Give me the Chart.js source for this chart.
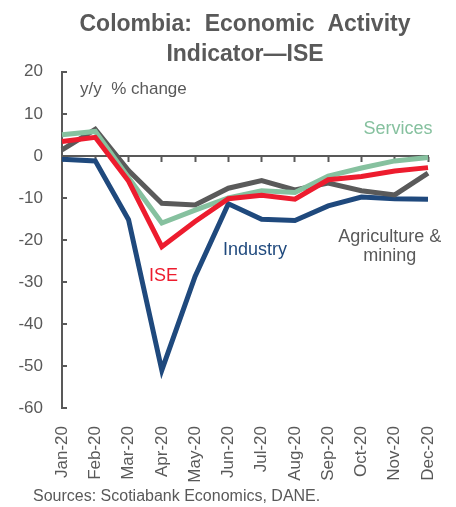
<!DOCTYPE html>
<html>
<head>
<meta charset="utf-8">
<script src="https://cdn.jsdelivr.net/npm/chart.js@4/dist/chart.umd.min.js"></script>
<style>
  html, body { margin: 0; padding: 0; background: #ffffff; }
  #wrap { width: 456px; height: 507px; position: relative; }
</style>
</head>
<body>
<div id="wrap"><canvas id="c" width="456" height="507"></canvas></div>
<script>
const months = ["Jan-20","Feb-20","Mar-20","Apr-20","May-20","Jun-20","Jul-20","Aug-20","Sep-20","Oct-20","Nov-20","Dec-20"];
const ise      = [3.4, 4.4, -6.0, -21.6, -15.6, -10.2, -9.4, -10.3, -5.7, -4.9, -3.6, -2.8];
const services = [5.0, 5.8, -5.2, -16.0, -12.9, -10.0, -8.3, -8.7, -4.8, -2.9, -1.2, -0.4];
const agriMining = [1.4, 6.3, -3.5, -11.3, -11.7, -7.7, -5.9, -8.1, -6.5, -8.3, -9.3, -4.1];
const industry = [-0.8, -1.2, -15.2, -51.0, -28.7, -11.4, -15.1, -15.4, -11.9, -9.8, -10.2, -10.3];
const yTicks = [20, 10, 0, -10, -20, -30, -40, -50, -60];

const GRAY = '#595959';
const FONT = "'Liberation Sans', Arial, sans-serif";

const extras = {
  id: 'extras',
  afterDraw(chart) {
    const ctx = chart.ctx;
    const x = chart.scales.x, y = chart.scales.y;
    const ca = chart.chartArea;
    ctx.save();
    // inward y ticks
    ctx.strokeStyle = GRAY; ctx.lineWidth = 2;
    yTicks.forEach(v => {
      const py = Math.round(y.getPixelForValue(v));
      ctx.beginPath(); ctx.moveTo(ca.left, py); ctx.lineTo(ca.left + 5, py); ctx.stroke();
    });
    // texts
    ctx.textBaseline = 'middle';
    ctx.textAlign = 'left';
    ctx.fillStyle = GRAY; ctx.font = "17px " + FONT;
    ctx.fillText('y/y  % change', x.getPixelForValue(0) + 18, y.getPixelForValue(15.8));
    ctx.textAlign = 'center';
    ctx.font = "18px " + FONT;
    ctx.fillStyle = '#86C19F';
    ctx.fillText('Services', x.getPixelForValue(10.1), y.getPixelForValue(6.4));
    ctx.fillStyle = '#1F497D';
    ctx.fillText('Industry', x.getPixelForValue(5.8), y.getPixelForValue(-22.4));
    ctx.fillStyle = '#ED1C2E';
    ctx.fillText('ISE', x.getPixelForValue(3.05), y.getPixelForValue(-28.6));
    ctx.fillStyle = GRAY;
    ctx.fillText('Agriculture &', x.getPixelForValue(9.85), y.getPixelForValue(-19.3));
    ctx.fillText('mining', x.getPixelForValue(9.85), y.getPixelForValue(-23.9));
    // footer
    ctx.textAlign = 'left';
    ctx.font = "16px " + FONT;
    ctx.fillText('Sources: Scotiabank Economics, DANE.', 33, 497);
    ctx.restore();
  }
};

new Chart(document.getElementById('c'), {
  type: 'line',
  data: {
    labels: months,
    datasets: [
      { label: 'ISE', data: ise, borderColor: '#ED1C2E', order: 1 },
      { label: 'Services', data: services, borderColor: '#86C19F', order: 2 },
      { label: 'Agriculture & mining', data: agriMining, borderColor: '#5A5A5A', order: 3 },
      { label: 'Industry', data: industry, borderColor: '#1F497D', order: 4 }
    ]
  },
  options: {
    responsive: false,
    animation: false,
    devicePixelRatio: 1,
    elements: {
      line: { borderWidth: 5, tension: 0, fill: false, borderJoinStyle: 'miter', borderCapStyle: 'butt' },
      point: { radius: 0, hoverRadius: 0 }
    },
    layout: { padding: { left: 0, right: 28, top: 0, bottom: 22 } },
    plugins: {
      legend: { display: false },
      tooltip: { enabled: false },
      title: {
        display: true,
        fullSize: false,
        text: ['Colombia:  Economic  Activity', 'Indicator\u2014ISE'],
        color: GRAY,
        font: { family: FONT, size: 23, weight: 'bold', lineHeight: 1.3 },
        padding: { top: 10, bottom: 2 }
      }
    },
    scales: {
      x: {
        type: 'category',
        position: { y: 0 },
        offset: false,
        ticks: { display: false },
        grid: { display: true, drawOnChartArea: false, drawTicks: true, tickLength: 5, tickWidth: 2, tickColor: GRAY },
        border: { display: true, color: GRAY, width: 2 }
      },
      x2: {
        type: 'category',
        position: 'bottom',
        offset: false,
        grid: { display: false, drawTicks: false },
        border: { display: false },
        ticks: {
          color: GRAY, font: { family: FONT, size: 17 },
          minRotation: 90, maxRotation: 90, autoSkip: false, padding: 18
        },
        afterFit(s) { s.height = 77; s.paddingLeft = 0; s.paddingRight = 0; }
      },
      y: {
        min: -60, max: 20,
        afterBuildTicks(s) { s.ticks = yTicks.map(v => ({ value: v })); },
        ticks: { color: GRAY, font: { family: FONT, size: 17 }, padding: 19, callback: v => String(v) },
        grid: { display: false, drawTicks: false },
        border: { display: true, color: GRAY, width: 2 },
        afterFit(s) { s.width = 62; s.paddingTop = 0; s.paddingBottom = 0; }
      }
    }
  },
  plugins: [extras]
});
</script>
</body>
</html>
